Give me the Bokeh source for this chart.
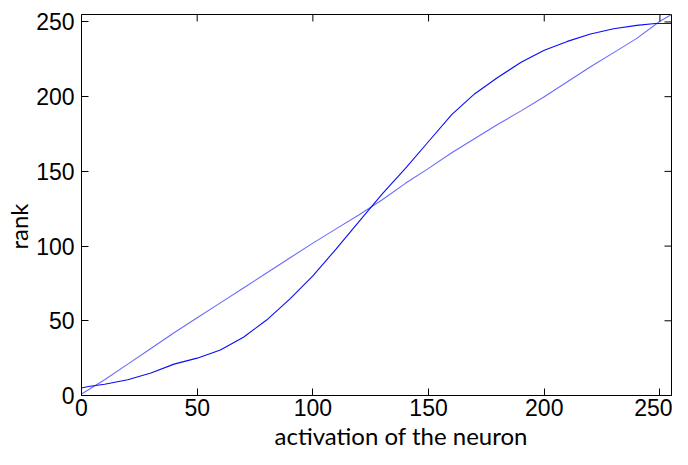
import numpy as np
from bokeh.plotting import figure
from bokeh.models import Range1d, FixedTicker, Title
from bokeh.embed import file_html
from bokeh.resources import INLINE

# sigmoid-shaped rank curve (dark blue)
sig_x = [0, 3, 10, 20, 30, 40, 50, 60, 70, 80, 90, 100, 110, 120, 130, 140, 150, 160, 170, 180, 190, 200, 210, 220, 230, 240, 248, 255]
sig_y = [5, 6, 7.5, 10.5, 15, 21, 25, 30.5, 39, 50.5, 64.5, 80, 98, 116.5, 135, 152, 170, 188, 202, 213, 223, 231, 237, 242, 245.5, 247.7, 249, 249]

# near-linear rank curve (light blue)
lin_x = [0, 10, 20, 30, 40, 50, 60, 70, 80, 90, 100, 110, 120, 130, 140, 150, 160, 170, 180, 190, 200, 210, 220, 230, 240, 250, 255]
lin_y = [1, 10.5, 21, 31.5, 42, 52, 62, 72, 82, 92, 102, 111.5, 121, 131, 142, 152, 162.5, 172, 181.5, 190.5, 200, 210, 220, 229.5, 239, 250.5, 255]

ticks = [0, 50, 100, 150, 200, 250]
x_lim = (0, 255)
y_lim = (0, 255)

FRAME_W, FRAME_H = 590, 382
TICK = 7

p = figure(width=672, height=449, output_backend="svg", toolbar_location=None,
           x_range=Range1d(*x_lim), y_range=Range1d(*y_lim),
           min_border_left=81, min_border_right=1, min_border_top=14, min_border_bottom=0,
           background_fill_color="white", border_fill_color="white")
p.grid.visible = False
p.outline_line_color = "black"
p.outline_line_width = 1

p.line(lin_x, lin_y, line_color="#6a6aff", line_width=1.1)
p.line(sig_x, sig_y, line_color="#0c0cf5", line_width=1.1)

# inward ticks on top and right edges (box style)
t = np.array(ticks, dtype=float)
dy = TICK * (y_lim[1] - y_lim[0]) / FRAME_H
dx = TICK * (x_lim[1] - x_lim[0]) / FRAME_W
p.segment(x0=t, y0=np.full_like(t, y_lim[1]), x1=t, y1=np.full_like(t, y_lim[1] - dy),
          line_color="black", line_width=1)
p.segment(x0=np.full_like(t, x_lim[1]), y0=t, x1=np.full_like(t, x_lim[1] - dx), y1=t,
          line_color="black", line_width=1)

for ax in (p.xaxis[0], p.yaxis[0]):
    ax.ticker = FixedTicker(ticks=ticks)
    ax.major_tick_in = TICK
    ax.major_tick_out = 0
    ax.minor_tick_line_color = None
    ax.axis_line_color = "black"
    ax.major_label_text_font = "Liberation Sans"
    ax.major_label_text_font_size = "23px"
    ax.major_label_text_color = "black"

p.xaxis[0].major_label_standoff = 3
p.yaxis[0].major_label_standoff = 7

xt = Title(text="activation of the neuron", align="left", offset=193, standoff=0,
           text_font="Lato", text_font_style="normal", text_font_size="24px", text_color="black")
p.add_layout(xt, "below")
yt = Title(text="rank", align="left", offset=146, standoff=2,
           text_font="Lato", text_font_style="normal", text_font_size="24px", text_color="black")
p.add_layout(yt, "left")

open("out.html", "w").write(file_html(p, INLINE))
